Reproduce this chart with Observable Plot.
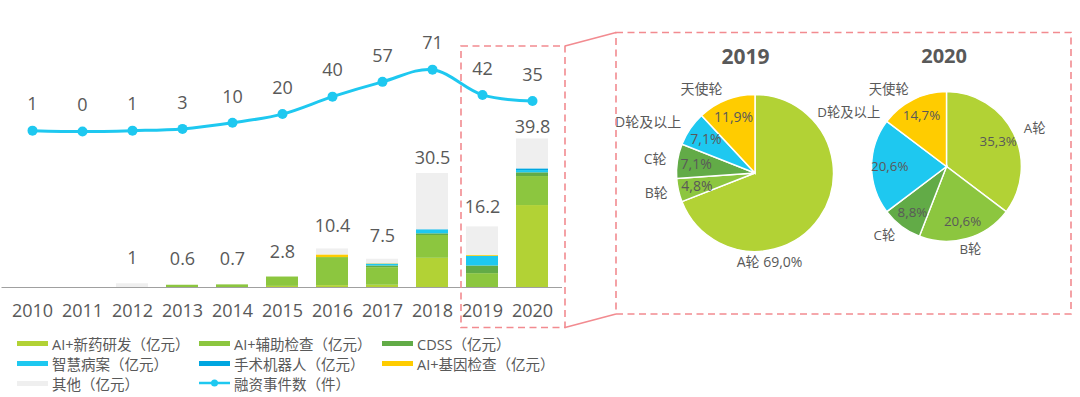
<!DOCTYPE html>
<html><head><meta charset="utf-8">
<script src="https://cdn.jsdelivr.net/npm/d3@7"></script>
<script src="https://cdn.jsdelivr.net/npm/@observablehq/plot@0.6"></script>
<style>
html,body{margin:0;padding:0;background:#fff;}
#root{position:relative;width:1080px;height:397px;overflow:hidden;font-family:"Open Sans","Noto Sans CJK SC",sans-serif;color:#595959;}
.layer{position:absolute;}
.li{position:absolute;display:flex;align-items:center;height:20px;white-space:nowrap;font-size:14.5px;font-family:"Open Sans","Noto Sans CJK SC",sans-serif;color:#595959;}
.sw{display:inline-block;width:31px;height:5px;margin-right:4px;}
</style></head><body><div id="root"></div>
<script>
// ---------- data ----------
const years = ["2010","2011","2012","2013","2014","2015","2016","2017","2018","2019","2020"];
const seriesNames = ["AI+新药研发（亿元）","AI+辅助检查（亿元）","CDSS（亿元）","智慧病案（亿元）","手术机器人（亿元）","AI+基因检查（亿元）","其他（亿元）"];
const seriesColors = ["#b2d235","#8cc63f","#62ab47","#1ec8f0","#00a6e0","#ffcc00","#efefef"];
const drugRD   = [0,0,0,0,  0,  0.3,0.5,0.6, 7.8, 0,   21.9];
const assist   = [0,0,0,0.6,0.7,2.5,7.5,4.7, 6.1, 3.7, 7.75];
const cdss     = [0,0,0,0,  0,  0,  0,  0.45,0.45,2.05,1.0];
const records  = [0,0,0,0,  0,  0,  0,  0.4, 1.0, 2.6, 0.6];
const robots   = [0,0,0,0,  0,  0,  0,  0.1, 0.1, 0,   0.45];
const gene     = [0,0,0,0,  0,  0,  0.7,0.1, 0,   0.25,0];
const others   = [0,0,1,0,  0,  0,  1.6,1.2, 15.0,7.6, 8.0];
const totalLabels = [null,null,1,0.6,0.7,2.8,10.4,7.5,30.5,16.2,39.8];
const eventName = "融资事件数（件）";
const eventCounts = [1,0,1,3,10,20,40,57,71,42,35];

const rounds = ["A轮","B轮","C轮","D轮及以上","天使轮"];
const roundColors = ["#b2d235","#8cc63f","#62ab47","#1ec8f0","#ffcc00"];
const pieYears = ["2019","2020"];
const share2019 = [69.0,4.8,7.1,7.1,11.9];
const share2020 = [35.3,20.6,8.8,20.6,14.7];

// ---------- helpers ----------
const root = document.getElementById("root");
const FONT = '"Open Sans","Noto Sans CJK SC",sans-serif';
const TXT = "#595959";
function place(node, left, top) {
  const d = document.createElement("div");
  d.className = "layer"; d.style.left = left + "px"; d.style.top = top + "px";
  d.appendChild(node); root.appendChild(d); return d;
}
const xBand = {type: "band", domain: years, paddingInner: 0.366, paddingOuter: 0.2};

// ---------- stacked bars ----------
const seriesValues = [drugRD, assist, cdss, records, robots, gene, others];
const barData = seriesNames.flatMap((s, i) => years.map((year, j) => ({year, series: s, value: seriesValues[i][j]})));
const labelData = years.map((year, j) => ({year, total: totalLabels[j]})).filter(d => d.total != null);

const barPlot = Plot.plot({
  width: 565, height: 330, marginTop: 0, marginLeft: 1.5, marginRight: 3, marginBottom: 43,
  style: {background: "transparent", color: TXT, fontFamily: FONT, fontSize: "18px", overflow: "visible"},
  x: {...xBand, tickSize: 0, tickPadding: 17, label: null},
  y: {domain: [0, 76.7], axis: null},
  color: {domain: seriesNames, range: seriesColors},
  marks: [
    Plot.barY(barData, {x: "year", y: "value", fill: "series"}),
    Plot.ruleY([0], {stroke: "#a0a0a0", strokeWidth: 1}),
    Plot.text(labelData, {x: "year", y: d => d.total * 0.9 + 7, text: d => String(d.total), fontSize: 18, fill: TXT})
  ]
});
place(barPlot, 0, 0);

// ---------- line overlay ----------
const lineData = years.map((year, j) => ({year, count: eventCounts[j]}));
const linePlot = Plot.plot({
  width: 565, height: 330, marginTop: 0, marginLeft: 1.5, marginRight: 3, marginBottom: 199,
  style: {background: "transparent", color: TXT, fontFamily: FONT, fontSize: "18px", overflow: "visible"},
  x: {...xBand, axis: null},
  y: {domain: [0, 150.4], axis: null},
  marks: [
    Plot.line(lineData, {x: "year", y: "count", stroke: "#1ec8f0", strokeWidth: 3, curve: "catmull-rom"}),
    Plot.dot(lineData, {x: "year", y: "count", r: 5, fill: "#1ec8f0"}),
    Plot.text(lineData, {x: "year", y: "count", text: d => String(d.count), dy: -26, fontSize: 18, fill: TXT})
  ]
});
place(linePlot, 0, 0);

// ---------- pies ----------
const roundColor = Plot.scale({color: {type: "ordinal", domain: rounds, range: roundColors}});
const pct = v => d3.format(".1f")(v).replace(".", ",") + "%";
const tweaks = {"2019": {"A轮": {angle: 171, withValue: true}}, "2020": {"D轮及以上": {angle: 309}}};
const titleShift = {"2019": -10, "2020": -3};
function piePlot(yr, shares) {
  const R = 78.5, rIn = 60, rOut = 90;
  const arcs = d3.pie().sort(null).value(d => d.value)(rounds.map((round, i) => ({round, value: shares[i]})));
  const tw = tweaks[yr] || {};
  const inner = [], outer = [];
  arcs.forEach(a => {
    const mid = (a.startAngle + a.endAngle) / 2;
    const t = tw[a.data.round] || {};
    if (!t.withValue) inner.push({x: rIn * Math.sin(mid), y: -rIn * Math.cos(mid), text: pct(a.data.value)});
    const ang = t.angle != null ? t.angle * Math.PI / 180 : mid;
    const s = Math.sin(ang);
    outer.push({x: rOut * Math.sin(ang), y: -rOut * Math.cos(ang),
      text: t.withValue ? a.data.round + " " + pct(a.data.value) : a.data.round,
      anchor: s > 0.35 ? "start" : s < -0.35 ? "end" : "middle"});
  });
  const arcGen = d3.arc().innerRadius(0).outerRadius(R);
  const arcMark = (index, scales, values, dims) => {
    const cx = dims.width / 2, cy = dims.height / 2;
    const g = d3.create("svg:g").attr("transform", `translate(${cx},${cy})`);
    g.selectAll("path").data(arcs).join("path")
      .attr("d", arcGen).attr("fill", d => roundColor.apply(d.data.round))
      .attr("stroke", "#fff").attr("stroke-width", 1.5);
    return g.node();
  };
  const anchors = ["start", "middle", "end"];
  return Plot.plot({
    width: 280, height: 280, margin: 0,
    style: {background: "transparent", color: TXT, fontFamily: FONT, fontSize: "14px", overflow: "visible"},
    x: {domain: [-140, 140], range: [0, 280], axis: null},
    y: {domain: [-140, 140], range: [0, 280], axis: null},
    marks: [
      arcMark,
      Plot.text([yr], {frameAnchor: "top", lineAnchor: "middle", text: d => d, dy: 24, dx: titleShift[yr], fontSize: 21, fontWeight: "bold", fill: TXT}),
      Plot.text(inner, {x: "x", y: "y", text: "text", fontSize: 14, fill: TXT}),
      ...anchors.map(an => Plot.text(outer.filter(o => o.anchor === an), {x: "x", y: "y", text: "text", textAnchor: an, fontSize: 14, fill: TXT}))
    ]
  });
}
place(piePlot(pieYears[0], share2019), 615, 33);
place(piePlot(pieYears[1], share2020), 813, 33);

// ---------- highlight boxes ----------
const ov = d3.create("svg").attr("width", 1080).attr("height", 397).style("position", "absolute").style("left", 0).style("top", 0).style("pointer-events", "none");
const red = "#f28b90";
ov.append("rect").attr("x", 461).attr("y", 46).attr("width", 104).attr("height", 281.5)
  .attr("fill", "none").attr("stroke", red).attr("stroke-width", 1.6).attr("stroke-dasharray", "7,4.5");
ov.append("rect").attr("x", 616).attr("y", 32.5).attr("width", 455).attr("height", 281.5)
  .attr("fill", "none").attr("stroke", red).attr("stroke-width", 1.6).attr("stroke-dasharray", "7,4.5");
ov.append("line").attr("x1", 565).attr("y1", 46).attr("x2", 616).attr("y2", 32.5).attr("stroke", red).attr("stroke-width", 1.6);
ov.append("line").attr("x1", 565).attr("y1", 327.5).attr("x2", 616).attr("y2", 314).attr("stroke", red).attr("stroke-width", 1.6);
root.appendChild(ov.node());

// ---------- legend ----------
const legendItems = seriesNames.map((s, i) => ({label: s, color: seriesColors[i], line: false}))
  .concat([{label: eventName, color: "#1ec8f0", line: true}]);
const colX = [17, 199, 382], rowY = [333, 353, 373];
legendItems.forEach((it, i) => {
  const el = document.createElement("div");
  el.className = "li";
  el.style.left = colX[i % 3] + "px"; el.style.top = rowY[Math.floor(i / 3)] + "px";
  if (it.line) {
    el.innerHTML = `<svg width="31" height="10" style="margin-right:4px"><line x1="0" y1="5" x2="31" y2="5" stroke="${it.color}" stroke-width="2.5"/><circle cx="15.5" cy="5" r="3.5" fill="${it.color}"/></svg>`;
  } else {
    const sw = document.createElement("span"); sw.className = "sw"; sw.style.background = it.color; el.appendChild(sw);
  }
  el.appendChild(document.createTextNode(it.label));
  root.appendChild(el);
});
</script>
</body></html>
